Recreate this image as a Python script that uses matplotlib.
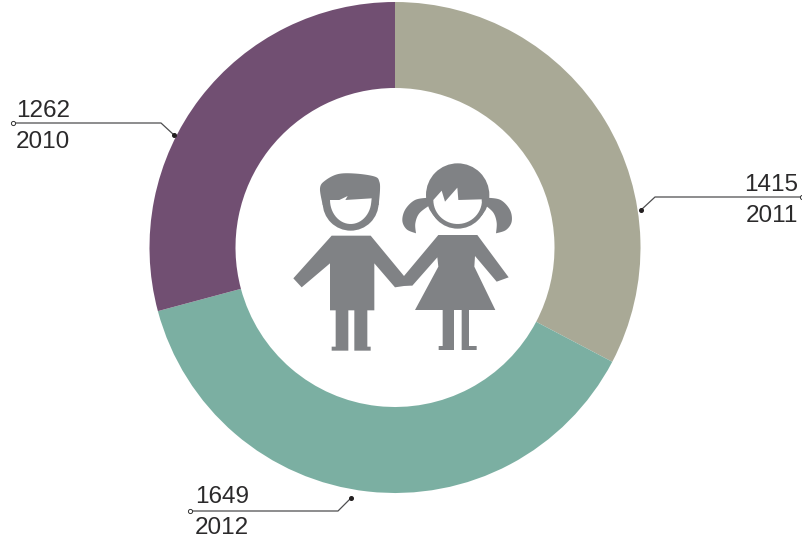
import numpy as np
import matplotlib
matplotlib.use("Agg")
import matplotlib.pyplot as plt
from matplotlib.patches import Polygon, Circle

years = ["2011", "2012", "2010"]
values = [1415, 1649, 1262]
colors = ["#A9A996", "#7BAFA2", "#714F72"]
ICON = "#808285"
TXT = "#2b2a2b"
W, H = 803, 543

fig = plt.figure(figsize=(W/100, H/100), dpi=100)
ax = fig.add_axes([0, 0, 1, 1])

def P(x, y):
    return (x, H - y)

ax.pie(values, colors=colors, startangle=90, counterclock=False, radius=245.5,
       center=P(395, 247.5), frame=True,
       wedgeprops=dict(width=86, linewidth=0))
ax.set_xlim(0, W); ax.set_ylim(0, H); ax.set_aspect("equal"); ax.axis("off")

def Z(pts):
    return [P(280 + x/3, 150 + y/3) for x, y in pts]

def poly(pts, color=ICON, z=3):
    ax.add_patch(Polygon(Z(pts), closed=True, fc=color, ec="none", zorder=z))

def circ(x, y, r, color=ICON, z=3):
    c = Z([(x, y)])[0]
    ax.add_patch(Circle(c, r/3, fc=color, ec="none", zorder=z))

def arc(cx, cy, rx, ry, a0, a1, n=30):
    t = np.radians(np.linspace(a0, a1, n))
    return [(cx + rx*np.cos(v), cy + ry*np.sin(v)) for v in t]

def smooth(pts, n=10):
    # Catmull-Rom curve through the outline points of the icon
    p = np.array([pts[0]] + list(pts) + [pts[-1]], float)
    out = []
    for i in range(1, len(p) - 2):
        for t in np.linspace(0, 1, n, endpoint=False):
            out.append(tuple(0.5*((2*p[i]) + (p[i+1]-p[i-1])*t
                       + (2*p[i-1]-5*p[i]+4*p[i+1]-p[i+2])*t*t
                       + (3*p[i]-p[i-1]-3*p[i+1]+p[i+2])*t**3)))
    out.append(tuple(p[-1]))
    return out

# boy
circ(212, 158, 84)
poly(smooth([(128,165),(120,115),(135,92),(175,72),(230,71),(285,80),(298,95),(300,120),(296,165)]))
poly([(151,150),(178,150),(203,138),(196,150),(275,145)] + arc(212, 150, 62, 72, 0, 180)[1:], "white", 4)
poly([(155,257),(272,257),(372,378),(392,405),(345,412),(283,340),(283,481),(262,481),(262,590),(272,590),
      (272,602),(223,602),(223,481),(205,481),(205,602),(155,602),(155,590),(167,590),(167,481),(150,481),
      (150,340),(65,412),(40,385)])
# girl
circ(533, 135, 95)
circ(533, 150, 86)
poly(smooth([(445,143),(405,150),(376,178),(367,212),(380,238),(408,250)]) +
     smooth([(408,250),(406,220),(418,190),(450,165)]))
poly(smooth([(622,143),(662,150),(690,180),(695,215),(678,240),(648,250)]) +
     smooth([(648,250),(650,218),(640,188),(615,165)]))
poly([(460,150),(485,122),(495,155),(532,113),(535,150),(605,148)] + arc(533, 150, 73, 72, 0, 180)[1:], "white", 4)
poly([(475,255),(592,255),(686,382),(650,395),(585,318),(583,350),(646,480),(567,480),(567,588),(590,588),
      (590,600),(545,600),(545,480),(522,480),(522,600),(476,600),(476,588),(488,588),(488,480),(405,480),
      (475,350),(472,322),(397,407),(370,407),(372,378)])

# callouts
def callout(xs, ys, filled, hollow, top, bottom, tx, ty, ha="left"):
    pts = [P(x, y) for x, y in zip(xs, ys)]
    ax.plot(*zip(*pts), color="#4d4d4f", lw=0.9, zorder=2, solid_capstyle="butt")
    ax.plot(*P(*filled), "o", ms=2.6, color="#231f20", zorder=3)
    ax.plot(*P(*hollow), "o", ms=3, mfc="white", mec="#333333", mew=0.7, zorder=3, clip_on=False)
    for s, y in ((top, ty[0]), (bottom, ty[1])):
        ax.text(*P(tx, y), s, ha=ha, va="baseline", fontsize=17.5, color=TXT,
                family="Liberation Sans", zorder=3)

callout([13,161,174],[123,123,135],(174,135),(13,123),str(values[2]),years[2],16,(117,148))
callout([641,655,802],[210,197,197],(641,210),(802,197),str(values[0]),years[0],798,(191,222),ha="right")
callout([190,338,351],[511,511,498],(351,498),(190,511),str(values[1]),years[1],195,(503,534))

fig.savefig("out.png", dpi=100, facecolor="white")
